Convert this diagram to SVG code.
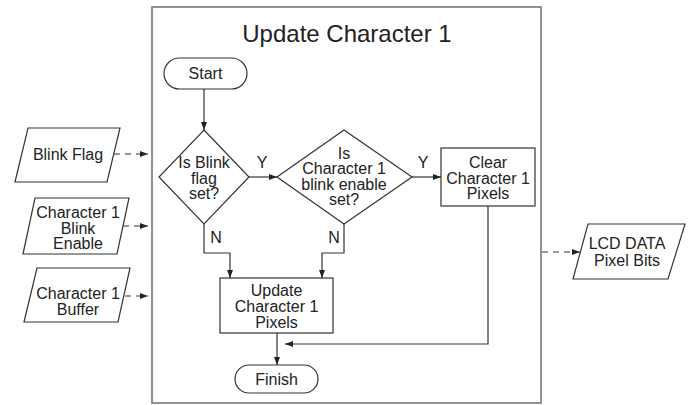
<svg xmlns="http://www.w3.org/2000/svg" width="688" height="405" viewBox="0 0 688 405">
<defs>
<marker id="ah" viewBox="0 0 8 6" refX="8" refY="3" markerWidth="8" markerHeight="6" orient="auto" markerUnits="userSpaceOnUse">
<path d="M0,0 L8,3 L0,6 Z" fill="#222"/>
</marker>
</defs>
<style>
text{font-family:"Liberation Sans",Arial,sans-serif;font-size:16px;fill:#222;text-anchor:middle}
.title{font-size:24px}
.shape{fill:#fff;stroke:#333;stroke-width:1.2}
.frame{fill:#fff;stroke:#777;stroke-width:1.6}
.conn{fill:none;stroke:#333;stroke-width:1.2}
.arr{marker-end:url(#ah)}
.dash{stroke-dasharray:6 5}
</style>
<rect width="688" height="405" fill="#fff"/>
<g id="frame">
<rect class="frame" x="152" y="7" width="389" height="396"/>
<text class="title" x="347" y="42">Update Character 1</text>
</g>
<g id="start">
<rect class="shape" x="164" y="58" width="83" height="31" rx="15.5"/>
<text x="205.5" y="79">Start</text>
</g>
<g id="decision1">
<polygon class="shape" points="204,130 249,177 204,224 159,177"/>
<text x="204" y="168">Is Blink</text>
<text x="204" y="183.5">flag</text>
<text x="204" y="199">set?</text>
</g>
<g id="decision2">
<polygon class="shape" points="344,130 412,177 344,224 277,177"/>
<text x="344" y="158.5">Is</text>
<text x="344" y="174">Character 1</text>
<text x="344" y="189.5">blink enable</text>
<text x="344" y="205">set?</text>
</g>
<g id="clear">
<rect class="shape" x="441" y="148" width="94" height="58"/>
<text x="488" y="168">Clear</text>
<text x="488" y="183.5">Character 1</text>
<text x="488" y="199">Pixels</text>
</g>
<g id="update">
<rect class="shape" x="220" y="278" width="113" height="55"/>
<text x="276.5" y="295.5">Update</text>
<text x="276.5" y="312">Character 1</text>
<text x="276.5" y="328">Pixels</text>
</g>
<g id="finish">
<rect class="shape" x="235" y="365" width="83" height="28" rx="14"/>
<text x="276.5" y="385">Finish</text>
</g>
<g id="blinkflag">
<polygon class="shape" points="28,128 120,128 107,182 15,182"/>
<text x="68" y="160">Blink Flag</text>
</g>
<g id="blinkenable">
<polygon class="shape" points="35,198 129,198 117,254 23,254"/>
<text x="78" y="218">Character 1</text>
<text x="78" y="233.5">Blink</text>
<text x="78" y="249">Enable</text>
</g>
<g id="buffer">
<polygon class="shape" points="37,268 130,268 118,322 24,322"/>
<text x="78" y="299">Character 1</text>
<text x="78" y="315">Buffer</text>
</g>
<g id="lcd">
<polygon class="shape" points="588,224 685,224 668,279 573,279"/>
<text x="627" y="249">LCD DATA</text>
<text x="627" y="266">Pixel Bits</text>
</g>
<g id="connectors">
<line class="conn arr" x1="204" y1="89" x2="204" y2="130"/>
<line class="conn arr" x1="249" y1="177" x2="277" y2="177"/>
<line class="conn arr" x1="412" y1="177" x2="441" y2="177"/>
<polyline class="conn arr" points="204,224 204,253 230,253 230,278"/>
<polyline class="conn arr" points="344,224 344,253 322,253 322,278"/>
<line class="conn arr" x1="277" y1="333" x2="277" y2="365"/>
<polyline class="conn arr" points="488,206 488,344 285,344"/>
<line class="conn dash arr" x1="114" y1="154" x2="148" y2="154"/>
<line class="conn dash arr" x1="123" y1="226" x2="148" y2="226"/>
<line class="conn dash arr" x1="125" y1="296" x2="148" y2="296"/>
<line class="conn dash arr" x1="542" y1="252" x2="580" y2="252"/>
<text x="262" y="168">Y</text>
<text x="423" y="168">Y</text>
<text x="216" y="243">N</text>
<text x="334" y="243">N</text>
</g>
</svg>
